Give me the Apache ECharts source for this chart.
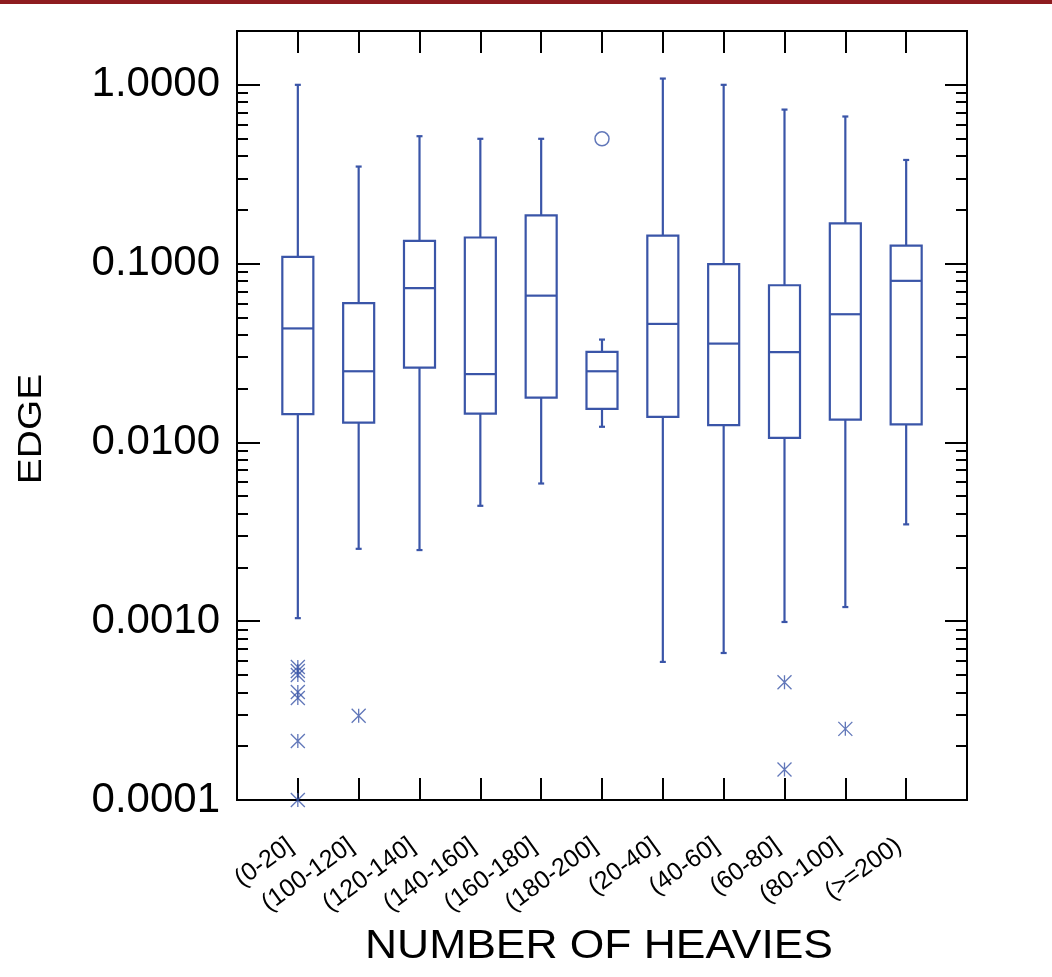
<!DOCTYPE html>
<html>
<head>
<meta charset="utf-8">
<script src="https://cdn.jsdelivr.net/npm/echarts@6/dist/echarts.min.js"></script>
<style>
  html, body { margin: 0; padding: 0; background: #ffffff; }
  #chart { width: 1052px; height: 977px; }
</style>
</head>
<body>
<div id="chart"></div>
<script>
// Edge distribution by number of heavy atoms
const categories = ['(0-20]', '(100-120]', '(120-140]', '(140-160]', '(160-180]', '(180-200]',
                    '(20-40]', '(40-60]', '(60-80]', '(80-100]', '(>=200)'];
const whiskerLow  = [0.00104, 0.00254, 0.0025, 0.00442, 0.00589, 0.01223, 0.000592, 0.000664, 0.00099, 0.0012, 0.00348];
const quart1      = [0.0144, 0.0129, 0.0262, 0.0145, 0.0178, 0.0154, 0.0139, 0.0125, 0.0106, 0.0134, 0.0126];
const medians     = [0.0434, 0.025, 0.073, 0.0241, 0.0662, 0.025, 0.046, 0.0357, 0.032, 0.0521, 0.0801];
const quart3      = [0.109, 0.0601, 0.134, 0.140, 0.186, 0.0321, 0.1435, 0.0993, 0.0757, 0.168, 0.126];
const whiskerHigh = [1.0, 0.349, 0.516, 0.499, 0.499, 0.0376, 1.084, 1.0, 0.727, 0.665, 0.380];

// far outliers: [category position (1-based), value]
const farOutliers = [
  [1, 0.000555], [1, 0.000527], [1, 0.000500], [1, 0.000402], [1, 0.000372], [1, 0.000214], [1, 0.0001],
  [2, 0.000296],
  [9, 0.000456], [9, 0.000148],
  [10, 0.000250]
];
// near outliers
const nearOutliers = [[6, 0.499]];

const yMajorTicks = [0.0001, 0.001, 0.01, 0.1, 1];
const yMin = 0.0001, yMax = 2;

const xTitle = 'NUMBER OF HEAVIES';
const yTitle = 'EDGE';

const yMinorTicks = [];
for (let e = -4; e <= 0; e++) {
  for (let m = 2; m <= 9; m++) {
    const v = m * Math.pow(10, e);
    if (v < yMax) yMinorTicks.push(v);
  }
}

const boxData = categories.map((c, i) => [i + 1, whiskerLow[i], quart1[i], medians[i], quart3[i], whiskerHigh[i]]);

const BLUE = '#3a55a8';
const FONT = "'Liberation Sans', Arial, Helvetica, sans-serif";

function logAxis(position, tickValues, tickLen, withLabels) {
  return {
    type: 'log',
    logBase: 10,
    min: yMin,
    max: yMax,
    position: position,
    offset: 0,
    splitLine: { show: false },
    minorTick: { show: false },
    axisLine: { show: true, onZero: false, lineStyle: { color: '#000', width: 2 } },
    axisTick: { show: true, inside: true, length: tickLen, customValues: tickValues, lineStyle: { color: '#000', width: 2 } },
    axisLabel: withLabels ? {
      show: true,
      customValues: yMajorTicks,
      margin: 17,
      fontSize: 42,
      fontFamily: FONT,
      color: '#000',
      formatter: function (v) {
        const e = Math.log10(v);
        if (Math.abs(e - Math.round(e)) > 1e-6) return '';
        return Number(v).toFixed(4);
      }
    } : { show: false }
  };
}

const chart = echarts.init(document.getElementById('chart'), null, { renderer: 'canvas' });

chart.setOption({
  animation: false,
  backgroundColor: '#ffffff',
  grid: { left: 237, right: 85, top: 31, bottom: 177, containLabel: false },
  graphic: [{
    type: 'rect',
    left: 0, top: 0,
    shape: { width: 1052, height: 4 },
    style: { fill: '#8e1c1f' },
    silent: true
  }, {
    type: 'text',
    x: 599, y: 947,
    scaleX: 1.11,
    silent: true,
    style: { text: xTitle, fontSize: 40, fontFamily: FONT, fill: '#000', align: 'center', verticalAlign: 'middle' }
  }, {
    type: 'text',
    x: 32, y: 429,
    rotation: Math.PI / 2,
    scaleX: 1.18,
    silent: true,
    style: { text: yTitle, fontSize: 33, fontFamily: FONT, fill: '#000', align: 'center', verticalAlign: 'middle' }
  }],
  xAxis: [{
    type: 'value',
    min: 0, max: 12, interval: 1,
    position: 'bottom',
    splitLine: { show: false },
    axisLine: { show: true, onZero: false, lineStyle: { color: '#000', width: 2 } },
    axisTick: { show: true, inside: true, length: 22, lineStyle: { color: '#000', width: 2 } },
    axisLabel: {
      show: true,
      rotate: 36,
      margin: 38,
      fontSize: 25,
      fontFamily: FONT,
      color: '#000',
      padding: [0, 9, 0, 0],
      formatter: function (v) {
        const i = Math.round(v) - 1;
        return (i >= 0 && i < categories.length && Math.abs(v - Math.round(v)) < 1e-6) ? categories[i] : '';
      }
    }
  }, {
    type: 'value',
    min: 0, max: 12, interval: 1,
    position: 'top',
    splitLine: { show: false },
    axisLine: { show: true, onZero: false, lineStyle: { color: '#000', width: 2 } },
    axisTick: { show: true, inside: true, length: 22, lineStyle: { color: '#000', width: 2 } },
    axisLabel: { show: false }
  }],
  yAxis: [
    logAxis('left', yMajorTicks, 23, true),
    logAxis('left', yMinorTicks, 11, false),
    logAxis('right', yMajorTicks, 22, false),
    logAxis('right', yMinorTicks, 11, false)
  ],
  series: [{
    type: 'custom',
    name: 'EDGE',
    xAxisIndex: 0,
    yAxisIndex: 0,
    data: boxData,
    encode: { x: 0, y: [1, 2, 3, 4, 5] },
    clip: false,
    renderItem: function (params, api) {
      const x = api.value(0);
      const pLo = api.coord([x, api.value(1)]);
      const pQ1 = api.coord([x, api.value(2)]);
      const pMd = api.coord([x, api.value(3)]);
      const pQ3 = api.coord([x, api.value(4)]);
      const pHi = api.coord([x, api.value(5)]);
      const half = api.size([1, 0])[0] * 0.255;
      const cap = 3;
      const cx = pMd[0];
      const st = { stroke: BLUE, lineWidth: 2.2, fill: null };
      const line = (x1, y1, x2, y2) => ({ type: 'line', shape: { x1, y1, x2, y2 }, style: st });
      return {
        type: 'group',
        children: [
          { type: 'rect', shape: { x: cx - half, y: pQ3[1], width: half * 2, height: pQ1[1] - pQ3[1] },
            style: { stroke: BLUE, lineWidth: 2.2, fill: 'none' } },
          line(cx - half, pMd[1], cx + half, pMd[1]),
          line(cx, pQ3[1], cx, pHi[1]),
          line(cx, pQ1[1], cx, pLo[1]),
          line(cx - cap, pHi[1], cx + cap, pHi[1]),
          line(cx - cap, pLo[1], cx + cap, pLo[1])
        ]
      };
    }
  }, {
    type: 'scatter',
    name: 'far',
    xAxisIndex: 0,
    yAxisIndex: 0,
    data: farOutliers,
    symbol: 'path://M0,0L14,14M14,0L0,14M7,0L7,14',
    symbolSize: 14,
    clip: false,
    itemStyle: { color: 'none', borderColor: BLUE, borderWidth: 1.3 }
  }, {
    type: 'scatter',
    name: 'near',
    xAxisIndex: 0,
    yAxisIndex: 0,
    data: nearOutliers,
    symbol: 'circle',
    symbolSize: 14,
    clip: false,
    itemStyle: { color: 'none', borderColor: BLUE, borderWidth: 1.5 }
  }]
});
</script>
</body>
</html>
